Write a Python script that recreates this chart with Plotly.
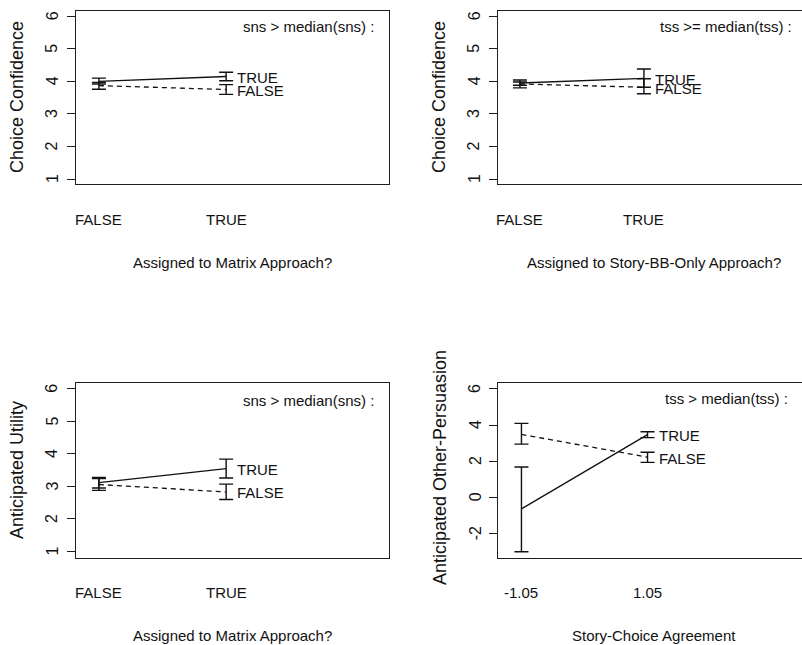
import plotly.graph_objects as go

# ---------------- data ----------------
# Panel 1: Choice Confidence vs Matrix approach, split by sns > median(sns)
p1_cats = ["FALSE", "TRUE"]
p1_true_mean = [4.00, 4.15]
p1_true_lo = [3.92, 4.02]
p1_true_hi = [4.10, 4.28]
p1_false_mean = [3.87, 3.75]
p1_false_lo = [3.76, 3.60]
p1_false_hi = [3.97, 3.90]

# Panel 2: Choice Confidence vs Story-BB-Only approach, split by tss >= median(tss)
p2_cats = ["FALSE", "TRUE"]
p2_true_mean = [3.95, 4.09]
p2_true_lo = [3.88, 3.82]
p2_true_hi = [4.04, 4.38]
p2_false_mean = [3.92, 3.82]
p2_false_lo = [3.80, 3.62]
p2_false_hi = [3.98, 4.08]

# Panel 3: Anticipated Utility vs Matrix approach, split by sns > median(sns)
p3_cats = ["FALSE", "TRUE"]
p3_true_mean = [3.12, 3.55]
p3_true_lo = [2.95, 3.26]
p3_true_hi = [3.28, 3.84]
p3_false_mean = [3.06, 2.83]
p3_false_lo = [2.88, 2.60]
p3_false_hi = [3.24, 3.07]

# Panel 4: Anticipated Other-Persuasion vs Story-Choice Agreement, split by tss > median(tss)
p4_cats = ["-1.05", "1.05"]
p4_true_mean = [-0.65, 3.47]
p4_true_lo = [-3.02, 3.30]
p4_true_hi = [1.67, 3.63]
p4_false_mean = [3.48, 2.22]
p4_false_lo = [2.94, 1.93]
p4_false_hi = [4.09, 2.49]

group_labels = ["TRUE", "FALSE"]
legend_titles = ["sns > median(sns) :", "tss >= median(tss) :",
                 "sns > median(sns) :", "tss > median(tss) :"]
x_titles = ["Assigned to Matrix Approach?", "Assigned to Story-BB-Only Approach?",
            "Assigned to Matrix Approach?", "Story-Choice Agreement"]
y_titles = ["Choice Confidence", "Choice Confidence",
            "Anticipated Utility", "Anticipated Other-Persuasion"]
y_ticks_conf = [1, 2, 3, 4, 5, 6]
y_ticks_pers = [-2, 0, 2, 4, 6]

# ---------------- layout geometry ----------------
W, H = 802, 645
TXT = "Liberation Sans, Arial, sans-serif"
TS = 15
INK = "#111111"
BOX = "#1e1e1e"

# pixel boxes (left, top, right, bottom)
boxes = [(76, 11, 389, 184), (498, 11, 802, 184),
         (76, 383, 389, 558), (498, 383, 802, 558)]
xranges = [[-0.18, 2.28], [-0.177, 2.275], [-0.18, 2.28], [-0.186, 2.225]]
yranges = [[0.85, 6.16], [0.85, 6.16], [0.80, 6.18], [-3.37, 6.33]]
yticks = [y_ticks_conf, y_ticks_conf, y_ticks_conf, y_ticks_pers]
ytick_x = [52, 474, 52, 475]
xtick_y = [219, 219, 592, 592]
xtitle_pos = [(232, 263), (654, 263), (232, 635), (654, 635)]
ytitle_pos = [(17, 97), (439, 97), (17, 470), (440, 468)]
legend_pos = [(308, 27), (726, 27), (308, 400), (726, 398)]

panels = [
    (p1_cats, p1_true_mean, p1_true_lo, p1_true_hi, p1_false_mean, p1_false_lo, p1_false_hi),
    (p2_cats, p2_true_mean, p2_true_lo, p2_true_hi, p2_false_mean, p2_false_lo, p2_false_hi),
    (p3_cats, p3_true_mean, p3_true_lo, p3_true_hi, p3_false_mean, p3_false_lo, p3_false_hi),
    (p4_cats, p4_true_mean, p4_true_lo, p4_true_hi, p4_false_mean, p4_false_lo, p4_false_hi),
]

fig = go.Figure()
annotations = []


def px_x(v):
    return v / W


def px_y(v):
    return 1 - v / H


for i, (cats, tm, tl, th, fm, fl, fh) in enumerate(panels):
    n = i + 1
    xa = "x" if n == 1 else f"x{n}"
    ya = "y" if n == 1 else f"y{n}"
    for mean, lo, hi, dash in [(tm, tl, th, "solid"), (fm, fl, fh, "5px,4px")]:
        fig.add_trace(go.Scatter(
            x=cats, y=mean, xaxis=xa, yaxis=ya, mode="lines",
            line=dict(color=INK, width=1.3, dash=dash),
            error_y=dict(type="data", symmetric=False,
                         array=[h - m for h, m in zip(hi, mean)],
                         arrayminus=[m - l for m, l in zip(mean, lo)],
                         color=INK, thickness=1.4, width=7),
            showlegend=False, hoverinfo="skip"))
    last = len(cats) - 1  # category index of the last level
    # line-end labels
    for lab, mean in zip(group_labels, [tm, fm]):
        annotations.append(dict(
            x=last, y=mean[-1], xref=xa, yref=ya, text=lab, showarrow=False,
            xanchor="left", yanchor="middle", xshift=9, yshift=-1,
            font=dict(family=TXT, size=TS, color=INK)))
    l, t, r, b = boxes[i]
    xkey = "xaxis" if n == 1 else f"xaxis{n}"
    ykey = "yaxis" if n == 1 else f"yaxis{n}"
    fig.layout[xkey] = dict(
        domain=[px_x(l), px_x(r)], anchor=ya, type="category", range=xranges[i],
        showline=True, mirror=True, linecolor=BOX, linewidth=1.3,
        ticks="", showgrid=False, zeroline=False, showticklabels=False,
        fixedrange=True)
    fig.layout[ykey] = dict(
        domain=[px_y(b), px_y(t)], anchor=xa, range=yranges[i],
        tickmode="array", tickvals=yticks[i],
        ticks="outside", ticklen=8, tickwidth=1.3, tickcolor=BOX,
        showline=True, mirror=(n in (1, 3)), linecolor=BOX, linewidth=1.3,
        showgrid=False, zeroline=False, showticklabels=False, fixedrange=True)
    # y tick labels, rotated like R's default, placed through the y axis
    for v in yticks[i]:
        annotations.append(dict(
            x=px_x(ytick_x[i]), y=v, xref="paper", yref=ya, text=str(v),
            showarrow=False, xanchor="center", yanchor="middle", textangle=-90,
            font=dict(family=TXT, size=16, color=INK)))
    # x tick labels (category names) placed through the x axis by index
    for j, c in enumerate(cats):
        annotations.append(dict(
            x=j, y=px_y(xtick_y[i]), xref=xa, yref="paper", text=c, showarrow=False,
            xanchor="center", yanchor="middle",
            font=dict(family=TXT, size=TS, color=INK)))
    # axis titles
    xtx, xty = xtitle_pos[i]
    annotations.append(dict(
        x=px_x(xtx), y=px_y(xty), xref="paper", yref="paper", text=x_titles[i],
        showarrow=False, xanchor="center", yanchor="middle",
        font=dict(family=TXT, size=TS, color=INK)))
    ytx, yty = ytitle_pos[i]
    annotations.append(dict(
        x=px_x(ytx), y=px_y(yty), xref="paper", yref="paper", text=y_titles[i],
        showarrow=False, xanchor="center", yanchor="middle", textangle=-90,
        font=dict(family=TXT, size=18, color=INK)))
    # legend title
    lx, ly = legend_pos[i]
    annotations.append(dict(
        x=px_x(lx), y=px_y(ly), xref="paper", yref="paper", text=legend_titles[i],
        showarrow=False, xanchor="center", yanchor="middle",
        font=dict(family=TXT, size=TS, color=INK)))

fig.update_layout(
    width=W, height=H, margin=dict(l=0, r=0, t=0, b=0),
    paper_bgcolor="white", plot_bgcolor="white",
    annotations=annotations, showlegend=False)

fig.write_html("out.html", config={"displayModeBar": False},
               post_script="document.body.style.margin='0px';")
